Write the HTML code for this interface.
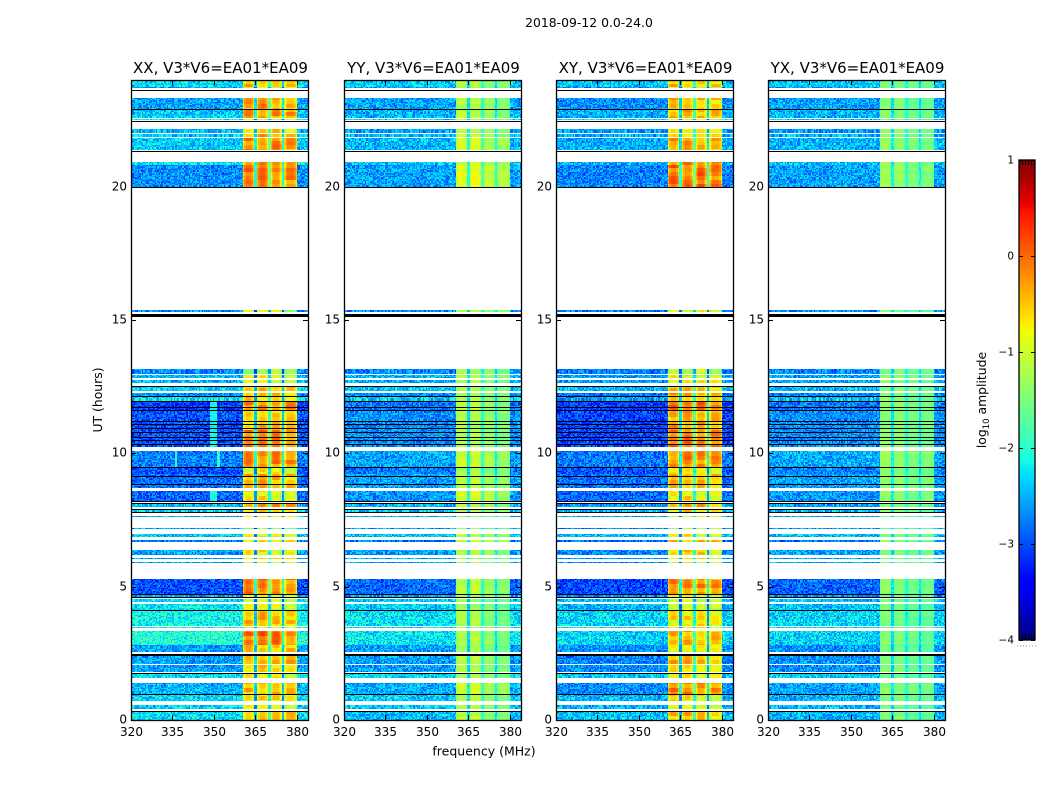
<!DOCTYPE html>
<html>
<head>
<meta charset="utf-8">
<title>2018-09-12 0.0-24.0</title>
<style>
html,body{margin:0;padding:0;background:#fff;}
#stage{position:relative;width:1050px;height:800px;overflow:hidden;background:#fff;}
#stage canvas{position:absolute;image-rendering:pixelated;}
#overlay{position:absolute;left:0;top:0;}
text{font-family:"DejaVu Sans","Liberation Sans",sans-serif;fill:#000;}
</style>
</head>
<body>
<div id="stage">
<svg id="overlay" width="1050" height="800" viewBox="0 0 1050 800">
<text x="589" y="27" text-anchor="middle" font-size="12.4">2018-09-12 0.0-24.0</text>
<text x="484" y="755.5" text-anchor="middle" font-size="12.5">frequency (MHz)</text>
<text transform="translate(102,400) rotate(-90)" text-anchor="middle" font-size="12.4">UT (hours)</text>
<text transform="translate(986,400) rotate(-90)" text-anchor="middle" font-size="12.4">log<tspan font-size="8.5" dy="3">10</tspan><tspan dy="-3"> amplitude</tspan></text>
</svg>
</div>
<script>
// Polarisation panels
const panelTitles = ["XX, V3*V6=EA01*EA09","YY, V3*V6=EA01*EA09","XY, V3*V6=EA01*EA09","YX, V3*V6=EA01*EA09"];
// Axis ticks
const xTicks = [320,335,350,365,380];
const yTicks = [0,5,10,15,20];
const cbarTicks = [1,0,-1,-2,-3,-4];
// Time ranges that hold data (UT hours)
const bandStart = [0,.40,.50,.71,.96,1.58,1.79,2.10,2.56,2.81,3.45,3.54,4.12,4.41,4.57,4.71,5.90,6.03,6.19,6.68,6.85,7.16,7.62,7.80,7.97,8.19,8.69,9.24,9.48,10.25,10.88,11.63,11.93,12.12,12.34,12.63,12.81,12.98,15.31,20.00,20.83,21.38,21.88,22.03,22.50,22.58,22.90,23.69,23.75];
const bandEnd = [.31,.47,.56,.94,1.39,1.75,2.05,2.39,2.81,3.35,3.50,4.10,4.35,4.53,4.69,5.29,5.94,6.08,6.38,6.74,6.98,7.20,7.66,7.92,8.14,8.60,9.24,9.48,10.09,10.88,11.63,11.93,12.12,12.27,12.50,12.75,12.94,13.16,15.37,20.81,20.94,21.83,21.96,22.16,22.54,22.90,23.34,23.75,24.00];
// Background log10 amplitude of each time range, per polarisation
const bgXX = [-2.3,-2.4,-2.4,-2.35,-2.5,-2.3,-2.6,-2.6,-2.6,-2.05,-2.1,-2.15,-2.25,-2.3,-2.6,-3,-2.6,-2.6,-2.6,-2.8,-2.4,-2.6,-2.5,-2.4,-2.5,-2.9,-2.85,-3,-2.75,-3,-3,-3.1,-2.3,-2.7,-2.3,-2.5,-2.5,-2.7,-2.7,-2.7,-2.3,-2.4,-2.4,-2.5,-2.2,-2.4,-2.6,-2.6,-2.3];
const bgYY = [-2.45,-2.4,-2.4,-2.4,-2.55,-2.3,-2.6,-2.6,-2.6,-2.25,-2.3,-2.3,-2.4,-2.4,-2.6,-2.85,-2.6,-2.6,-2.6,-2.8,-2.4,-2.6,-2.5,-2.4,-2.5,-2.65,-2.6,-2.8,-2.55,-2.7,-2.7,-2.8,-2.4,-2.7,-2.4,-2.5,-2.5,-2.7,-2.7,-2.6,-2.4,-2.5,-2.5,-2.6,-2.3,-2.5,-2.6,-2.6,-2.4];
const bgXY = [-2.45,-2.5,-2.5,-2.5,-2.7,-2.4,-2.7,-2.75,-2.7,-2.35,-2.3,-2.35,-2.5,-2.4,-2.7,-3.05,-2.7,-2.7,-2.7,-2.85,-2.5,-2.7,-2.6,-2.5,-2.6,-2.9,-2.85,-3,-2.8,-3.05,-3.05,-3.1,-2.6,-2.8,-2.5,-2.6,-2.6,-2.8,-2.8,-2.75,-2.5,-2.55,-2.55,-2.65,-2.3,-2.55,-2.7,-2.7,-2.4];
const bgYX = [-2.5,-2.5,-2.5,-2.5,-2.6,-2.4,-2.65,-2.65,-2.65,-2.35,-2.35,-2.35,-2.45,-2.45,-2.65,-2.9,-2.6,-2.6,-2.6,-2.8,-2.45,-2.6,-2.55,-2.45,-2.55,-2.65,-2.6,-2.75,-2.55,-2.7,-2.7,-2.8,-2.45,-2.7,-2.45,-2.55,-2.55,-2.7,-2.7,-2.6,-2.45,-2.5,-2.5,-2.6,-2.35,-2.5,-2.6,-2.6,-2.4];
// In-band signal log10 amplitude of each time range, per polarisation
const sigXX = [-.45,-.9,-.8,-.7,-.4,-.75,-.6,-.3,-.5,-.05,-.8,-.45,-.85,-1,-.9,-.1,-.9,-.7,-.7,-.6,-.8,-1.2,-.9,-.6,-.3,-.7,-.4,-.8,-.15,-.1,-.45,-.1,-.6,-.5,-.5,-.9,-.9,-1.2,-1,-.1,-.2,-.15,-.4,-.5,-1,-.2,-.3,-1,-.4];
const sigYY = [-1.2,-1.3,-1.3,-1.2,-1.1,-1.3,-1.3,-1.2,-1.35,-1.25,-1.4,-1.3,-1.4,-1.4,-1.3,-1.2,-1.3,-1.3,-1.2,-1.1,-1.2,-1.4,-1.3,-1.2,-1.2,-1.05,-1.15,-1.3,-1.1,-1.25,-1.25,-1.2,-1.25,-1.25,-1.3,-1.3,-1.2,-1.35,-1.2,-.95,-1.1,-1.05,-1.2,-1.2,-1.3,-1.2,-1.25,-1.4,-1.25];
const sigXY = [-.5,-.9,-.8,-.7,-.2,-.75,-.65,-.45,-.7,-.4,-.8,-.7,-.9,-1,-.9,-.2,-.9,-.7,-.6,-.5,-.8,-1.1,-.9,-.6,-.3,-.7,-.45,-.75,-.2,-.1,-.35,-.05,-.5,-.4,-.5,-.8,-.8,-1.1,-.9,-.05,-.2,-.35,-.5,-.6,-1,-.4,-.45,-1,-.5];
const sigYX = [-1.5,-1.6,-1.6,-1.5,-1.45,-1.6,-1.55,-1.5,-1.6,-1.5,-1.6,-1.55,-1.6,-1.6,-1.6,-1.45,-1.5,-1.5,-1.5,-1.45,-1.5,-1.6,-1.5,-1.5,-1.45,-1.4,-1.4,-1.5,-1.35,-1.45,-1.45,-1.4,-1.45,-1.45,-1.5,-1.5,-1.45,-1.55,-1.5,-1.35,-1.4,-1.4,-1.45,-1.45,-1.55,-1.45,-1.5,-1.6,-1.5];
// Sub-band frequency ranges (MHz), relative gains per polarisation, and the look of the gaps between them
const subbandLow = [360.5,365.5,370.5,375.5];
const subbandHigh = [364.5,369.5,374.5,380];
const gainXX = [0,.05,0,-.1];
const gainYY = [.1,.12,-.1,-.2];
const gainXY = [.05,.05,0,-.1];
const gainYX = [.08,.05,-.08,-.1];
const gapDrop = [1.7,.9,1.7,.7];
const gapWeight = [1.15,.85,1.15];
const edgeDrop = [.45,.2,.45,.15];
const rowRipple = [.28,.1,.28,.08];
// Interference stripes on XX: low MHz, high MHz, start UT, end UT, level
const rfiLow = [348.6,348.6,351.2,336];
const rfiHigh = [351,351,352.2,336.6];
const rfiStart = [8.19,10.25,9.48,9.48];
const rfiEnd = [8.6,11.93,10.09,10.09];
const rfiLevel = [-2.1,-2.15,-2.0,-2.0];
// Rows flagged black (UT hours)
const flaggedRows = [.33,.96,1.77,2.44,2.49,4.11,4.62,4.71,7.79,7.91,8.15,8.2,8.86,9.16,9.48,10.35,10.49,10.62,10.79,10.94,11.10,11.22,11.63,11.73,11.96,12.15,12.52,15.15,15.19,15.22,19.97,21.34,22.47,22.90,23.64];
// Hand-written pixel texture table (not read from the picture)
const speckle = [.31,-.72,.58,-.14,.92,-.47,.05,-.88,.66,.22,-.35,.79,-.61,.13,-.96,.44,-.2,.71,-.53,.38,-.81,.09,.87,-.29,.51,-.67,.18,-.42,.95,-.07,-.76,.62,.27,-.55,.83,-.11,-.9,.4,.01,-.33,.74,-.64,.56,-.18,.98,-.49,.24,-.85,.35,-.03,.68,-.58,.15,-.93,.47,.81,-.26,-.7,.6,-.39,.11,.89,-.52,-.16,.76,-.82,.29,.54,-.99,.42,-.23,.65,-.44,.07,.84,-.6,.2,-.75,.5,-.31,.97,-.12,-.66,.33,.72,-.5,-.05,.91,-.37,.17,-.86,.57,-.28,.78,-.57,.03,.46];

const jetR = [[0,0],[.35,0],[.66,1],[.89,1],[1,.5]];
const jetG = [[0,0],[.125,0],[.375,1],[.64,1],[.91,0],[1,0]];
const jetB = [[0,.5],[.11,1],[.34,1],[.65,0],[1,0]];
function lerpStops(stops,t){
  for(let i=1;i<stops.length;i++){
    if(t<=stops[i][0]){
      const a=stops[i-1],b=stops[i];
      return a[1]+(b[1]-a[1])*(t-a[0])/(b[0]-a[0]);
    }
  }
  return stops[stops.length-1][1];
}
function colorOf(v){
  const t=Math.max(0,Math.min(1,(v+4)/5));
  return 'rgb('+Math.round(255*lerpStops(jetR,t))+','+Math.round(255*lerpStops(jetG,t))+','+Math.round(255*lerpStops(jetB,t))+')';
}

const NS='http://www.w3.org/2000/svg';
const overlay=document.getElementById('overlay');
const stage=document.getElementById('stage');
const panelLeft=[131,344,556,768];
const panelTop=80, panelW=177, panelH=640;
const xScale=f=>(f-320)*panelW/64;
const yScale=u=>(24-u)*panelH/24;
const bgs=[bgXX,bgYY,bgXY,bgYX];
const sigs=[sigXX,sigYY,sigXY,sigYX];
const gains=[gainXX,gainYY,gainXY,gainYX];

function levelAt(pol,band,f,ch,row){
  const i1=(ch*ch*3+ch*11+row*37+row*row*5+ch*row*13+pol*23)%97;
  const i2=(Math.floor(row/3)*41+pol*5+band*7+Math.floor(f/5)*19)%97;
  const noise=speckle[i1];
  let v=null;
  for(let s=0;s<subbandLow.length;s++){
    if(f>=subbandLow[s]&&f<subbandHigh[s]){
      const d=Math.min(f-subbandLow[s],subbandHigh[s]-f);
      const roll=d<.6?edgeDrop[pol]:(d<1.1?edgeDrop[pol]*.35:0);
      v=sigs[pol][band]+gains[pol][s]-roll+rowRipple[pol]*speckle[i2]+.05*noise;
    }
  }
  if(v===null&&f>=subbandLow[0]&&f<subbandHigh[3]){
    let g=0;
    while(g<2&&f>=subbandHigh[g+1])g++;
    v=sigs[pol][band]-gapDrop[pol]*gapWeight[g]+.15*noise;
  }
  if(v===null){
    v=bgs[pol][band]+.42*noise;
    if(pol===0){
      const u=bandStart[band];
      for(let k=0;k<rfiLow.length;k++){
        if(f>=rfiLow[k]&&f<rfiHigh[k]&&u>=rfiStart[k]&&u<rfiEnd[k]){
          v=rfiLevel[k]+.1*noise;
        }
      }
    }
  }
  return v;
}

function addLine(x1,y1,x2,y2,name,w){
  const l=document.createElementNS(NS,'line');
  l.setAttribute('x1',x1);l.setAttribute('y1',y1);l.setAttribute('x2',x2);l.setAttribute('y2',y2);
  l.setAttribute('stroke','#000');l.setAttribute('stroke-width',w||1);
  
  
  overlay.appendChild(l);
}
function addText(x,y,str,anchor,size,name){
  const t=document.createElementNS(NS,'text');
  t.setAttribute('x',x);t.setAttribute('y',y);t.setAttribute('text-anchor',anchor);t.setAttribute('font-size',size);
  
  
  t.textContent=str;
  overlay.appendChild(t);
}

panelTitles.forEach((title,pol)=>{
  const left=panelLeft[pol];
  const cv=document.createElement('canvas');
  cv.width=panelW;cv.height=panelH;
  cv.style.left=left+'px';cv.style.top=panelTop+'px';
  
  
  stage.insertBefore(cv,overlay);
  const g=cv.getContext('2d');
  const dt=.05, df=.5, nCh=128;
  bandStart.forEach((start,b)=>{
    const end=bandEnd[b];
    const nRows=Math.max(1,Math.round((end-start)/dt));
    const step=(end-start)/nRows;
    for(let r=0;r<nRows;r++){
      const u0=start+r*step,u1=u0+step;
      const y0=Math.round(yScale(u1));
      const y1=Math.max(y0+1,Math.round(yScale(u0)));
      const rowId=Math.round(u0/dt);
      for(let ch=0;ch<nCh;ch++){
        const f=320+ch*df;
        const x0=Math.round(xScale(f));
        const x1=Math.round(xScale(f+df));
        g.fillStyle=colorOf(levelAt(pol,b,f+df/2,ch,rowId));
        g.fillRect(x0,y0,x1-x0,y1-y0);
      }
    }
  });
  g.fillStyle='#000';
  flaggedRows.forEach(u=>{
    g.fillRect(0,Math.round(yScale(u)),panelW,1);
  });

  // axes frame
  const rect=document.createElementNS(NS,'rect');
  rect.setAttribute('x',left+.5);rect.setAttribute('y',panelTop+.5);
  rect.setAttribute('width',panelW);rect.setAttribute('height',panelH);
  rect.setAttribute('fill','none');rect.setAttribute('stroke','#000');rect.setAttribute('stroke-width','1.3');
  
  
  overlay.appendChild(rect);

  addText(left+panelW/2+1,73,title,'middle',15,'panel-title');
  xTicks.forEach(v=>{
    const x=left+Math.round(xScale(v))+.5;
    addLine(x,panelTop,x,panelTop+5,'x-tick');
    addLine(x,panelTop+panelH-5,x,panelTop+panelH,'x-tick');
    addText(x,736,String(v),'middle',12,'x-tick-label');
  });
  yTicks.forEach(v=>{
    const y=panelTop+Math.round(yScale(v))+.5;
    addLine(left,y,left+5,y,'y-tick');
    addLine(left+panelW-5,y,left+panelW,y,'y-tick');
    addText(left-4,y+3,String(v),'end',12,'y-tick-label');
  });
});

// Colour bar
const cbLeft=1019,cbTop=160,cbW=16,cbH=480;
const cbY=v=>(1-v)*cbH/5;
const cb=document.createElement('canvas');
cb.width=cbW;cb.height=cbH;
cb.style.left=cbLeft+'px';cb.style.top=cbTop+'px';


stage.insertBefore(cb,overlay);
const cg=cb.getContext('2d');
for(let p=0;p<cbH;p++){
  cg.fillStyle=colorOf(1-(p+.5)*5/cbH);
  cg.fillRect(0,p,cbW,1);
}
const cbFrame=document.createElementNS(NS,'rect');
cbFrame.setAttribute('x',cbLeft);cbFrame.setAttribute('y',cbTop);
cbFrame.setAttribute('width',cbW);cbFrame.setAttribute('height',cbH);
cbFrame.setAttribute('fill','none');cbFrame.setAttribute('stroke','#000');cbFrame.setAttribute('stroke-width','1.3');


overlay.appendChild(cbFrame);
cbarTicks.forEach(v=>{
  const y=cbTop+Math.round(cbY(v))+.5;
  addLine(cbLeft,y,cbLeft+4,y,'colorbar-tick');
  addLine(cbLeft+cbW-4,y,cbLeft+cbW,y,'colorbar-tick');
  addText(cbLeft-5,y+3,String(v).replace('-','\u2212'),'end',10.5,'colorbar-tick-label');
});
for(let k=0;k<5;k++){
  const x=cbLeft+3.5+k*3;
  addLine(x,cbTop,x,cbTop+5,'colorbar-minor-tick');
  addLine(x,cbTop+cbH-6,x,cbTop+cbH,'colorbar-minor-tick');
}
for(let k=0;k<7;k++){
  const d=document.createElementNS(NS,'rect');
  d.setAttribute('x',1017+k*3);d.setAttribute('y',645.5);d.setAttribute('width',1);d.setAttribute('height',1);
  d.setAttribute('fill','#888');
  
  
  overlay.appendChild(d);
}
</script>
</body>
</html>
